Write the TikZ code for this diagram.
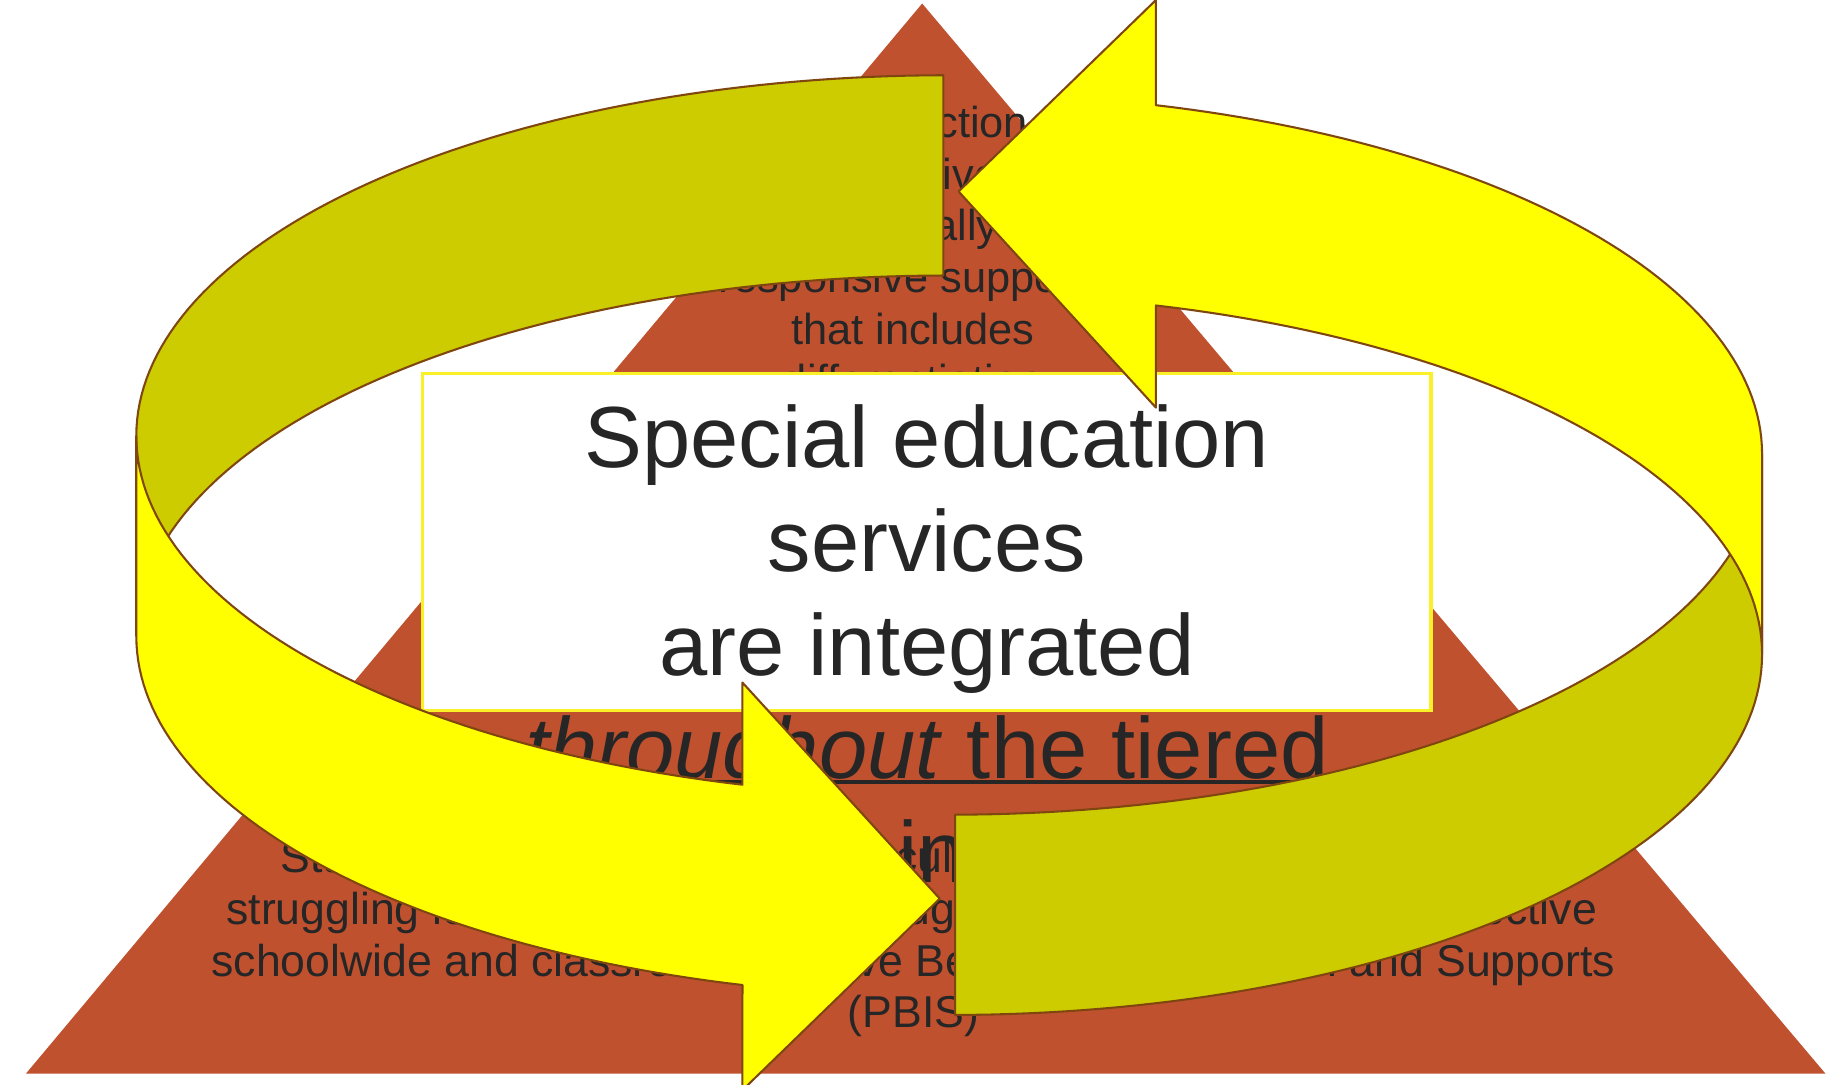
\documentclass[tikz,border=0pt]{standalone}
\usepackage{fontspec}
\setmainfont{Liberation Sans}
\definecolor{tri}{RGB}{192,81,47}
\definecolor{yel}{RGB}{255,255,0}
\definecolor{oli}{RGB}{204,204,0}
\definecolor{edgec}{RGB}{128,70,16}
\definecolor{ink}{RGB}{38,38,38}
\definecolor{boxedge}{RGB}{250,240,40}
\newcommand\ringarrow{%
  \path[band, fill=oli] (803,64)
    -- plot[domain=269.67:180, samples=70, variable=\t] ({807+691*cos(\t)},{371+307*sin(\t)})
    -- (116,541.5)
    -- plot[domain=180:269.67, samples=70, variable=\t] ({807+691*cos(\t)},{541.5+307*sin(\t)})
    -- cycle;
  \path[band, fill=yel] (116,371)
    -- plot[domain=180:104.67, samples=60, variable=\t] ({807+691*cos(\t)},{371+307*sin(\t)})
    -- (632,581) -- (800,765) -- (632,928)
    -- plot[domain=104.67:180, samples=60, variable=\t] ({807+691*cos(\t)},{541.5+307*sin(\t)})
    -- cycle;
}
\begin{document}
\begin{tikzpicture}[x=0.01cm,y=-0.01cm,
  smalltop/.style={text=ink, inner sep=0pt, font=\fontsize{10.5}{12.6}\selectfont},
  smallbot/.style={text=ink, inner sep=0pt, font=\fontsize{10.8}{12.9}\selectfont},
  big/.style={text=ink, inner sep=0pt, font=\fontsize{21}{25}\selectfont},
  band/.style={draw=edgec, line width=0.5pt, line join=round},
  textbox/.style={draw=boxedge, fill=white, line width=0.8pt, inner sep=0pt,
                  minimum width=8.58cm, minimum height=2.87cm}]
\useasboundingbox (0,0) rectangle (1568,923);
\fill[white] (0,0) rectangle (1568,923);

% pyramid
\coordinate (apex) at (785,3);
\coordinate (bl) at (22,914);
\coordinate (br) at (1554,914);
\fill[tri] (apex) -- (bl) -- (br) -- cycle;

% text of the top tier
\node[smalltop, anchor=base] (top1) at (790,117) {Instruction};
\node[smalltop, anchor=base] (top2) at (777,161) {intensive};
\node[smalltop, anchor=base] (top3) at (777,205) {culturally};
\node[smalltop, anchor=base] (top4) at (777,249) {responsive supports};
\node[smalltop, anchor=base] (top5) at (777,293) {that includes};
\node[smalltop, anchor=base] (top6) at (777,337) {differentiation};

% text of the bottom tier
\node[smallbot, anchor=base west] (bot1) at (238,743) {Students benefit from a school culture that supports};
\node[smallbot, anchor=base west] (bot2) at (192,787) {struggling learners are helped through the implementation of effective};
\node[smallbot, anchor=base] (bot3) at (777.5,831) {schoolwide and classroom Positive Behavior Intervention and Supports};
\node[smallbot, anchor=base] (bot4) at (777.5,875) {(PBIS)};

% central text box
\node[textbox] (box) at (789,461.5) {};
\node[big, anchor=base] (b1) at (789,398) {Special education};
\node[big, anchor=base] (b2) at (789,486.5) {services};
\node[big, anchor=base] (b3) at (789,575) {are integrated};
\node[big, anchor=base] (b4) at (789,663) {\textit{throughout} the tiered};
\node[big, anchor=base] (b5) at (765,751) {system in place};
\draw[ink, line width=0.85pt] ([yshift=-0.025cm]b4.base west) -- ([yshift=-0.025cm]b4.base east);

% circular arrows
\ringarrow
\begin{scope}[rotate around={180:(808,464)}]
  \ringarrow
\end{scope}
\end{tikzpicture}
\end{document}
